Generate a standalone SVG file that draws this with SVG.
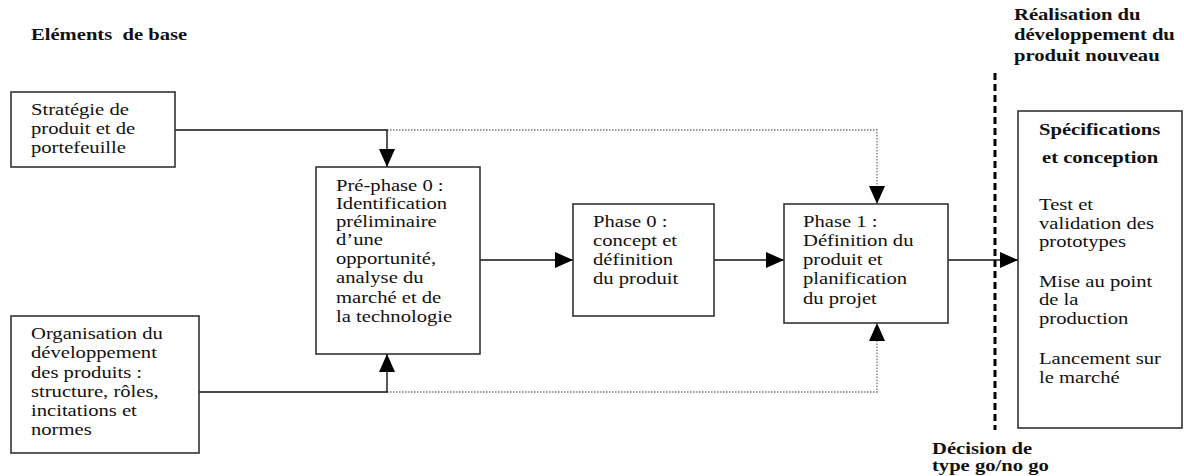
<svg xmlns="http://www.w3.org/2000/svg" width="1184" height="476" viewBox="0 0 1184 476">
  <style>
    .box { fill: #fff; stroke: #333; stroke-width: 1.6; }
    .t { font-family: "Liberation Serif", "Times New Roman", serif; font-size: 16.5px; fill: #111; }
    .b { font-weight: bold; }
    .solid { fill: none; stroke: #111; stroke-width: 1.4; }
    .dot { fill: none; stroke: #777; stroke-width: 1.3; stroke-dasharray: 1.5 1.5; }
    .gate { fill: none; stroke: #000; stroke-width: 3; stroke-dasharray: 7 4; }
  </style>
  <defs>
    <marker id="head" viewBox="0 0 18 16" refX="18" refY="8" markerWidth="18" markerHeight="16" markerUnits="userSpaceOnUse" orient="auto">
      <path d="M0,0 L18,8 L0,16 z" fill="#000"/>
    </marker>
  </defs>

  <rect width="1184" height="476" fill="#fff"/>

  <!-- headings -->
  <text class="t b" xml:space="preserve" transform="translate(31,0) scale(1.25,1)"><tspan x="0" y="40">Eléments  de base</tspan></text>
  <text class="t b" transform="translate(1014,0) scale(1.25,1)">
    <tspan x="0" y="20">Réalisation du</tspan>
    <tspan x="0" y="40.5">développement du</tspan>
    <tspan x="0" y="61">produit nouveau</tspan>
  </text>
  <text class="t b" transform="translate(932,0) scale(1.25,1)">
    <tspan x="0" y="454">Décision de</tspan>
    <tspan x="0" y="471">type go/no go</tspan>
  </text>

  <!-- connectors -->
  <g id="connectors">
    <line class="gate" x1="995" y1="73" x2="995" y2="430"/>
    <path class="dot" d="M387,130 H877 V204" marker-end="url(#head)"/>
    <path class="dot" d="M387,392 H877 V323" marker-end="url(#head)"/>
    <path class="solid" d="M175,130 H387 V167" marker-end="url(#head)"/>
    <path class="solid" d="M199,392 H387 V354" marker-end="url(#head)"/>
    <path class="solid" d="M480,260 H573" marker-end="url(#head)"/>
    <path class="solid" d="M714,260 H784" marker-end="url(#head)"/>
    <path class="solid" d="M948,260 H1018" marker-end="url(#head)"/>
  </g>

  <g id="strategie">
    <rect class="box" x="11" y="92" width="164" height="75"/>
    <text class="t" transform="translate(31,0) scale(1.25,1)">
      <tspan x="0" y="115">Stratégie de</tspan>
      <tspan x="0" y="134">produit et de</tspan>
      <tspan x="0" y="153">portefeuille</tspan>
    </text>
  </g>

  <g id="organisation">
    <rect class="box" x="11" y="316" width="188" height="137"/>
    <text class="t" transform="translate(31,0) scale(1.25,1)">
      <tspan x="0" y="339">Organisation du</tspan>
      <tspan x="0" y="358">développement</tspan>
      <tspan x="0" y="378">des produits :</tspan>
      <tspan x="0" y="397">structure, rôles,</tspan>
      <tspan x="0" y="416">incitations et</tspan>
      <tspan x="0" y="435">normes</tspan>
    </text>
  </g>

  <g id="pre-phase-0">
    <rect class="box" x="316" y="167" width="164" height="187"/>
    <text class="t" transform="translate(336,0) scale(1.25,1)">
      <tspan x="0" y="191">Pré-phase 0 :</tspan>
      <tspan x="0" y="209">Identification</tspan>
      <tspan x="0" y="227">préliminaire</tspan>
      <tspan x="0" y="245">d’une</tspan>
      <tspan x="0" y="264">opportunité,</tspan>
      <tspan x="0" y="283">analyse du</tspan>
      <tspan x="0" y="303">marché et de</tspan>
      <tspan x="0" y="322">la technologie</tspan>
    </text>
  </g>

  <g id="phase-0">
    <rect class="box" x="573" y="204" width="141" height="112"/>
    <text class="t" transform="translate(593,0) scale(1.25,1)">
      <tspan x="0" y="227">Phase 0 :</tspan>
      <tspan x="0" y="246">concept et</tspan>
      <tspan x="0" y="265">définition</tspan>
      <tspan x="0" y="284">du produit</tspan>
    </text>
  </g>

  <g id="phase-1">
    <rect class="box" x="784" y="204" width="164" height="119"/>
    <text class="t" transform="translate(803,0) scale(1.25,1)">
      <tspan x="0" y="227">Phase 1 :</tspan>
      <tspan x="0" y="246">Définition du</tspan>
      <tspan x="0" y="265">produit et</tspan>
      <tspan x="0" y="284">planification</tspan>
      <tspan x="0" y="304">du projet</tspan>
    </text>
  </g>

  <g id="realisation">
    <rect class="box" x="1018" y="111" width="164" height="317"/>
    <text class="t b" transform="translate(1039,0) scale(1.25,1)"><tspan x="0" y="135">Spécifications</tspan></text>
    <text class="t b" transform="translate(1042,0) scale(1.25,1)"><tspan x="0" y="163">et conception</tspan></text>
    <text class="t" transform="translate(1039,0) scale(1.25,1)">
      <tspan x="0" y="210">Test et</tspan>
      <tspan x="0" y="229">validation des</tspan>
      <tspan x="0" y="247">prototypes</tspan>
      <tspan x="0" y="287">Mise au point</tspan>
      <tspan x="0" y="305">de la</tspan>
      <tspan x="0" y="324">production</tspan>
      <tspan x="0" y="364">Lancement sur</tspan>
      <tspan x="0" y="383">le marché</tspan>
    </text>
  </g>
</svg>
